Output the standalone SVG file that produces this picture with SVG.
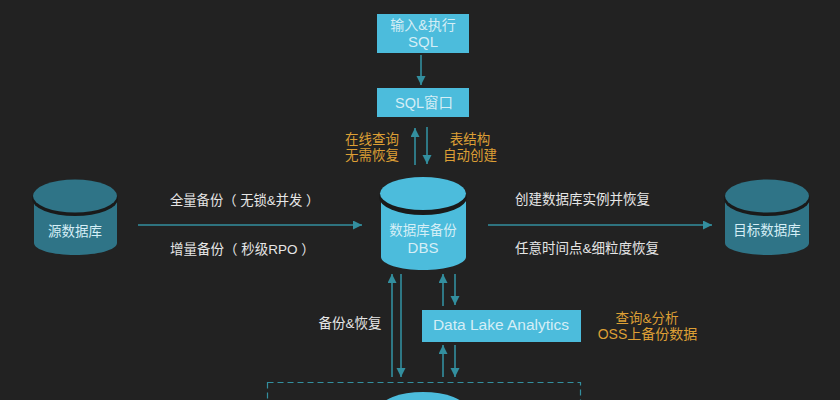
<svg xmlns="http://www.w3.org/2000/svg" width="840" height="400" viewBox="0 0 840 400">
<style>
text{font-family:"Liberation Sans","Noto Sans CJK SC",sans-serif;font-size:13.500px;text-anchor:middle}
.w{fill:#e6e6e6}.l{fill:#d5eef6}.o{fill:#dd9f35}
.b{fill:#4cbcdc}.t{fill:#2f7487}.d{fill:#1a1a1a}
.c{stroke:#338f9f;stroke-width:1.600;fill:none;marker-end:url(#a)}
.s{text-anchor:start}
.m{font-size:15px}
</style>
<defs><marker id="a" markerUnits="userSpaceOnUse" markerWidth="10" markerHeight="10" refX="9" refY="4.500" orient="auto"><path d="M0 0L9 4.500L0 9Z" fill="#338f9f"/></marker></defs>
<rect width="840" height="400" fill="#222222"/>
<g id="connectors">
<path class="c" d="M421 55V85"/>
<path class="c" d="M415 165V128"/>
<path class="c" d="M427 127V164"/>
<path class="c" d="M138 225H362"/>
<path class="c" d="M488 225H712"/>
<path class="c" d="M392 377V274"/>
<path class="c" d="M401 274V377"/>
<path class="c" d="M443 306V274"/>
<path class="c" d="M455 274V305"/>
<path class="c" d="M443 377V345"/>
<path class="c" d="M455 345V377"/>
<rect x="267.500" y="382.500" width="313" height="40" fill="none" stroke="#338f9f" stroke-width="1.200" stroke-dasharray="6 4"/>
</g>
<g id="input-sql"><rect class="b" x="377" y="14" width="92" height="39"/><text class="l" x="423" y="30" style="font-size:14px">输入&amp;执行</text><text class="l m" x="423" y="47">SQL</text></g>
<g id="sql-window"><rect class="b" x="377" y="88" width="92" height="29"/><text class="l" x="424" y="107.500" style="font-size:14.500px">SQL窗口</text></g>
<g id="note-online"><text class="o" x="372" y="144">在线查询</text><text class="o" x="372" y="160">无需恢复</text></g>
<g id="note-schema"><text class="o" x="470" y="144">表结构</text><text class="o" x="470" y="160">自动创建</text></g>
<g id="source-db">
<path class="t" d="M34 196V243C34 250 53 255 75 255S117 250 117 243V196Z"/>
<ellipse class="d" cx="75" cy="199" rx="43" ry="17"/>
<ellipse class="t" cx="75" cy="196" rx="42" ry="16.500"/>
<text class="l" x="75" y="236">源数据库</text></g>
<g id="dbs">
<path class="b" d="M381 195V257C381 264 400 270 423 270S466 264 466 257V195Z"/>
<ellipse class="d" cx="423" cy="197" rx="44" ry="18"/>
<ellipse class="b" cx="423" cy="193.500" rx="43" ry="16.500"/>
<text class="l" x="423" y="235">数据库备份</text><text class="l m" x="423" y="252.500">DBS</text></g>
<g id="target-db">
<path class="t" d="M725 196V243C725 250 745 255 767 255S809 250 809 243V196Z"/>
<ellipse class="d" cx="767" cy="199" rx="43" ry="17"/>
<ellipse class="t" cx="767" cy="196" rx="42" ry="16.500"/>
<text class="l" x="767" y="235">目标数据库</text></g>
<g id="labels-left"><text class="w s" x="170" y="205" style="font-size:13.300px">全量备份（ 无锁&amp;并发 ）</text><text class="w s" x="170" y="254">增量备份（ 秒级RPO ）</text></g>
<g id="labels-right"><text class="w s" x="515" y="204">创建数据库实例并恢复</text><text class="w s" x="515" y="253">任意时间点&amp;细粒度恢复</text></g>
<g id="label-backup"><text class="w" x="350" y="328">备份&amp;恢复</text></g>
<g id="dla"><rect class="b" x="422" y="310" width="159" height="32"/><text class="l" x="501" y="330" style="font-size:15.500px">Data Lake Analytics</text></g>
<g id="note-dla"><text class="o" x="647" y="323">查询&amp;分析</text><text class="o" x="647.500" y="339" style="font-size:14px">OSS上备份数据</text></g>
<g id="oss"><ellipse class="b" cx="423" cy="409" rx="43" ry="17"/></g>
</svg>
